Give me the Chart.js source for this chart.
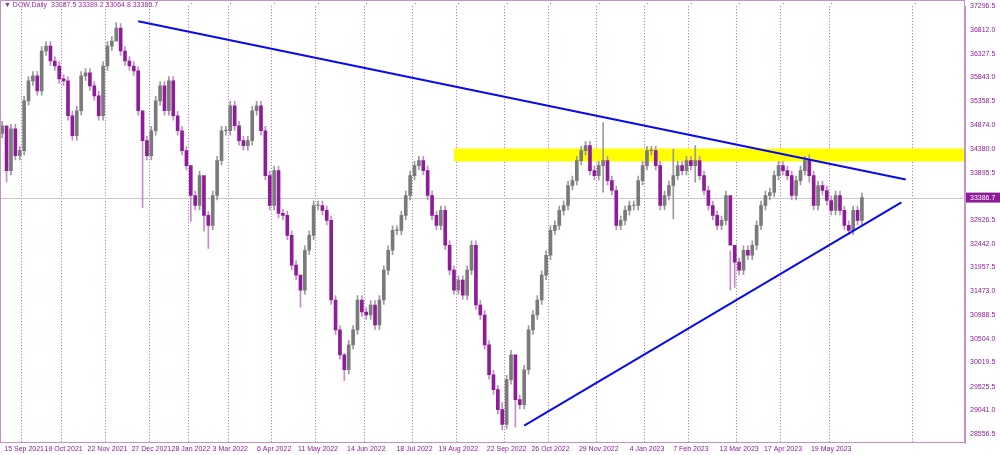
<!DOCTYPE html>
<html>
<head>
<meta charset="utf-8">
<script src="https://cdn.jsdelivr.net/npm/chart.js@4"></script>
<style>
  html, body { margin: 0; padding: 0; background: #fff; }
  #wrap { width: 1000px; height: 455px; position: relative; }
  #title { position: absolute; left: 4px; top: 1px; font: 7px "Liberation Sans", sans-serif; color: #9b2c9b; }
</style>
</head>
<body>
<div id="wrap">
  <canvas id="c" width="1000" height="455"></canvas>
  <div id="title">&#9660; DOW,Daily&nbsp; 33087.5 33389.2 33064.8 33386.7</div>
</div>
<script>
// ---- data (roughly 2 trading days per candle) ----
const closes = [
  34854, 33939, 34793, 34244, 34346, 35363, 35770, 35872, 35567, 36381,
  36482, 36177, 36075, 35811, 35770, 35058, 34651, 35160, 35872, 35933,
  35668, 35465, 35058, 36075, 36482, 36584, 36849, 36381, 36177, 36075,
  35974, 35160, 34549, 34244, 34753, 35363, 35668, 35160, 35770, 35058,
  34753, 34346, 34040, 33430, 33226, 33837, 33023, 32820, 33430, 34142,
  34753, 34753, 35262, 34854, 34549, 34447, 34549, 35160, 35262, 34753,
  33837, 33226, 33939, 33064, 33023, 32616, 32006, 31802, 31497, 32311,
  32616, 33226, 33226, 33125, 32921, 31294, 30684, 30175, 29870, 30378,
  30684, 31294, 31050, 30988, 31192, 30785, 31294, 31904, 32311, 32718,
  32718, 33023, 33430, 33837, 34040, 34142, 33939, 33430, 33023, 32820,
  33125, 32413, 31904, 31497, 31701, 31396, 31904, 32413, 31192, 30988,
  30378, 29768, 29463, 29056, 28751, 29667, 30175, 29260, 29158, 29870,
  30684, 30988, 31294, 31802, 32209, 32718, 32820, 33125, 33226, 33633,
  33735, 34142, 34346, 34447, 33939, 33837, 34040, 34142, 33735, 33532,
  32820, 32921, 33125, 33226, 33226, 33735, 34040, 34346, 34346, 34040,
  33226, 33430, 33633, 33837, 34040, 33939, 34142, 34040, 34142, 33837,
  33532, 33226, 33023, 32820, 32921, 33430, 32413, 32067, 31904, 32311,
  32209, 32413, 32820, 33226, 33430, 33491, 33837, 34040, 33939, 33837,
  33430, 33735, 33939, 34142, 33837, 33226, 33633, 33532, 33328, 33125,
  33430, 33125, 32820, 32718, 33125, 32921, 33387
];
const firstOpen = 34700;
// notable wick extremes: candle index -> [low, high]
const wickExtremes = {
  1: [33700, 34100], 26: [36700, 36960], 32: [33180, 34700], 43: [32900, 33700],
  46: [32700, 33300], 47: [32350, 33100], 68: [31150, 31800], 78: [29650, 30200],
  114: [28640, 29200], 117: [28700, 29500], 137: [33500, 34920], 153: [32950, 34380],
  158: [33700, 34450], 166: [31500, 32300], 167: [31550, 32200], 184: [33700, 34260]
};
const wickPad = 90;
const totalSlots = 220;
const tickDates = [
  [5, '15 Sep 2021'], [14, '19 Oct 2021'], [24, '22 Nov 2021'], [34, '27 Dec 2021'],
  [43, '28 Jan 2022'], [52, '3 Mar 2022'], [62, '6 Apr 2022'], [72, '11 May 2022'],
  [83, '14 Jun 2022'], [94, '18 Jul 2022'], [104, '19 Aug 2022'], [115, '22 Sep 2022'],
  [125, '26 Oct 2022'], [136, '29 Nov 2022'], [147, '4 Jan 2023'], [157, '7 Feb 2023'],
  [168, '13 Mar 2023'], [178, '17 Apr 2023'], [189, '19 May 2023'], [208, '']
];
const priceTicks = [28556.5, 29041.0, 29525.5, 30019.5, 30504.0, 30988.5, 31473.0, 31957.5,
  32442.0, 32926.5, 33895.5, 34380.0, 34874.0, 35358.5, 35843.0, 36327.5, 36812.0, 37296.5];
const lastPrice = 33386.7;
// trend lines [slot, price]
const resistLine = [[31, 36991], [206, 33755]];
const supportLine = [[119, 28729], [205, 33288]];
const zone = { fromSlot: 103, low: 34125, high: 34390 };

// ---- build candles ----
const labels = [];
for (let i = 0; i < totalSlots; i++) labels.push('');
tickDates.forEach(t => { labels[t[0]] = t[1]; });
const gridIdx = tickDates.map(t => t[0]);

const bodies = [], wicks = [], bodyColors = [], wickColors = [];
let prev = firstOpen;
closes.forEach((c, i) => {
  const o = prev;
  bodies.push([o, c === o ? c + 10 : c]);
  const ex = wickExtremes[i];
  const lo = ex ? ex[0] : Math.min(o, c) - wickPad;
  const hi = ex ? ex[1] : Math.max(o, c) + wickPad;
  wicks.push([lo, hi]);
  const up = c >= o;
  bodyColors.push(up ? '#7a7a7a' : '#8e1c9a');
  wickColors.push(up ? '#9a9a9a' : '#c48ccc');
  prev = c;
});

const overlayPlugin = {
  id: 'overlay',
  beforeDatasetsDraw(chart) {
    const { ctx, chartArea: a, scales: { x, y } } = chart;
    ctx.save();
    ctx.fillStyle = '#ffff00';
    const zx = x.getPixelForValue(zone.fromSlot);
    ctx.fillRect(zx, y.getPixelForValue(zone.high), a.right - zx, y.getPixelForValue(zone.low) - y.getPixelForValue(zone.high));
    ctx.strokeStyle = '#c8c8c8';
    ctx.lineWidth = 1;
    const ly = Math.round(y.getPixelForValue(lastPrice)) + 0.5;
    ctx.beginPath(); ctx.moveTo(a.left, ly); ctx.lineTo(a.right, ly); ctx.stroke();
    // gridlines up to the top edge
    ctx.strokeStyle = '#c35bc3';
    ctx.setLineDash([1, 2]);
    gridIdx.forEach(i => {
      const gx = Math.round(x.getPixelForValue(i)) + 0.5;
      ctx.beginPath(); ctx.moveTo(gx, 0); ctx.lineTo(gx, a.top); ctx.stroke();
    });
    ctx.restore();
  },
  afterDatasetsDraw(chart) {
    const { ctx, chartArea: a, scales: { x, y } } = chart;
    ctx.save();
    ctx.strokeStyle = '#0a0af0';
    ctx.lineWidth = 2;
    [resistLine, supportLine].forEach(l => {
      ctx.beginPath();
      ctx.moveTo(x.getPixelForValue(l[0][0]), y.getPixelForValue(l[0][1]));
      ctx.lineTo(x.getPixelForValue(l[1][0]), y.getPixelForValue(l[1][1]));
      ctx.stroke();
    });
    ctx.strokeStyle = '#c890c8';
    ctx.lineWidth = 1;
    ctx.strokeRect(a.left + 0.5, 0.5, a.right - a.left - 1, a.bottom - 1);
    const ly = y.getPixelForValue(lastPrice);
    ctx.fillStyle = '#8e1c9a';
    ctx.fillRect(a.right + 1, ly - 5, 34, 10);
    ctx.fillStyle = '#fff';
    ctx.font = '7px "Liberation Sans"';
    ctx.textBaseline = 'middle';
    ctx.fillText(lastPrice.toFixed(1), a.right + 5, ly);
    ctx.restore();
  }
};

new Chart(document.getElementById('c'), {
  type: 'bar',
  data: {
    labels: labels,
    datasets: [
      { data: wicks, backgroundColor: wickColors, barThickness: 1, grouped: false, order: 2 },
      { data: bodies, backgroundColor: bodyColors, barThickness: 3, grouped: false, order: 1 }
    ]
  },
  options: {
    responsive: false,
    animation: false,
    layout: { padding: 0 },
    plugins: { legend: { display: false }, tooltip: { enabled: false } },
    scales: {
      x: {
        afterFit: s => { s.height = 12; },
        grid: {
          drawTicks: false,
          color: c => gridIdx.includes(c.index) ? '#c35bc3' : 'rgba(0,0,0,0)',
          lineWidth: 1
        },
        border: { dash: [1, 2], display: false },
        ticks: {
          autoSkip: false, maxRotation: 0, padding: 2,
          color: '#8e1c9a', font: { size: 7, family: 'Liberation Sans' },
          callback: (v, i) => labels[i]
        }
      },
      y: {
        position: 'right',
        min: 28373.6, max: 37296.5,
        afterFit: s => { s.width = 35; },
        afterBuildTicks: s => { s.ticks = priceTicks.map(v => ({ value: v })); },
        grid: { display: false, drawTicks: true, tickLength: 3, tickColor: '#c890c8' },
        border: { color: '#c890c8' },
        ticks: {
          color: '#8e1c9a', padding: 2, font: { size: 7, family: 'Liberation Sans' },
          callback: v => v.toFixed(1)
        }
      }
    }
  },
  plugins: [overlayPlugin]
});
</script>
</body>
</html>
